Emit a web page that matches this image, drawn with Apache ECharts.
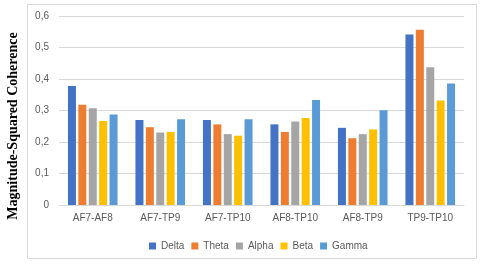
<!DOCTYPE html>
<html><head><meta charset="utf-8">
<script src="https://cdn.jsdelivr.net/npm/echarts@6/dist/echarts.min.js"></script>
<style>html,body{margin:0;padding:0;background:#fff}#c{width:480px;height:264px}</style>
</head><body><div id="c"></div>
<script>
const categories = ['AF7-AF8','AF7-TP9','AF7-TP10','AF8-TP10','AF8-TP9','TP9-TP10'];
const delta = [0.378, 0.270, 0.270, 0.256, 0.245, 0.541];
const theta = [0.318, 0.247, 0.256, 0.232, 0.212, 0.556];
const alpha = [0.307, 0.230, 0.225, 0.265, 0.225, 0.437];
const beta  = [0.267, 0.232, 0.220, 0.276, 0.240, 0.332];
const gamma = [0.287, 0.272, 0.272, 0.333, 0.301, 0.386];
const seriesNames = ['Delta','Theta','Alpha','Beta','Gamma'];
const colors = ['#4472C4','#ED7D31','#A5A5A5','#FFC000','#5B9BD5'];
const yTicks = ['0','0,1','0,2','0,3','0,4','0,5','0,6'];
const yTitle = 'Magnitude-Squared Coherence';

const chart = echarts.init(document.getElementById('c'));
const data = [delta, theta, alpha, beta, gamma];
chart.setOption({
  animation: false,
  graphic: [
    {type:'rect', shape:{x:27.5,y:4.5,width:449,height:254}, style:{fill:'none', stroke:'#d9d9d9', lineWidth:1}, z:-1},
    {type:'text', x:13, y:126, rotation:Math.PI/2,
      style:{text:yTitle, fontFamily:'Liberation Serif', fontWeight:'bold', fontSize:14, fill:'#000',
        align:'center', verticalAlign:'middle'}}
  ],
  grid: {left:59, right:16, top:16, bottom:59},
  legend: {top:236, left:144, itemWidth:7, itemHeight:7, itemGap:7, icon:'rect',
    textStyle:{color:'#595959', fontSize:10, fontFamily:'Liberation Sans'}, data: seriesNames},
  xAxis: {type:'category', data:categories,
    axisLine:{lineStyle:{color:'#d9d9d9'}}, axisTick:{show:false},
    axisLabel:{color:'#595959', fontSize:10, fontFamily:'Liberation Sans', margin:8}},
  yAxis: {type:'value', min:0, max:0.6, interval:0.1,
    axisLabel:{color:'#595959', fontSize:10, fontFamily:'Liberation Sans', margin:10,
      formatter: v => yTicks[Math.round(v*10)]},
    splitLine:{lineStyle:{color:'#d9d9d9'}}},
  series: seriesNames.map((n,i)=>({name:n, type:'bar', data:data[i], barWidth:8, barGap:'30%',
    itemStyle:{color:colors[i]}}))
});
</script></body></html>
